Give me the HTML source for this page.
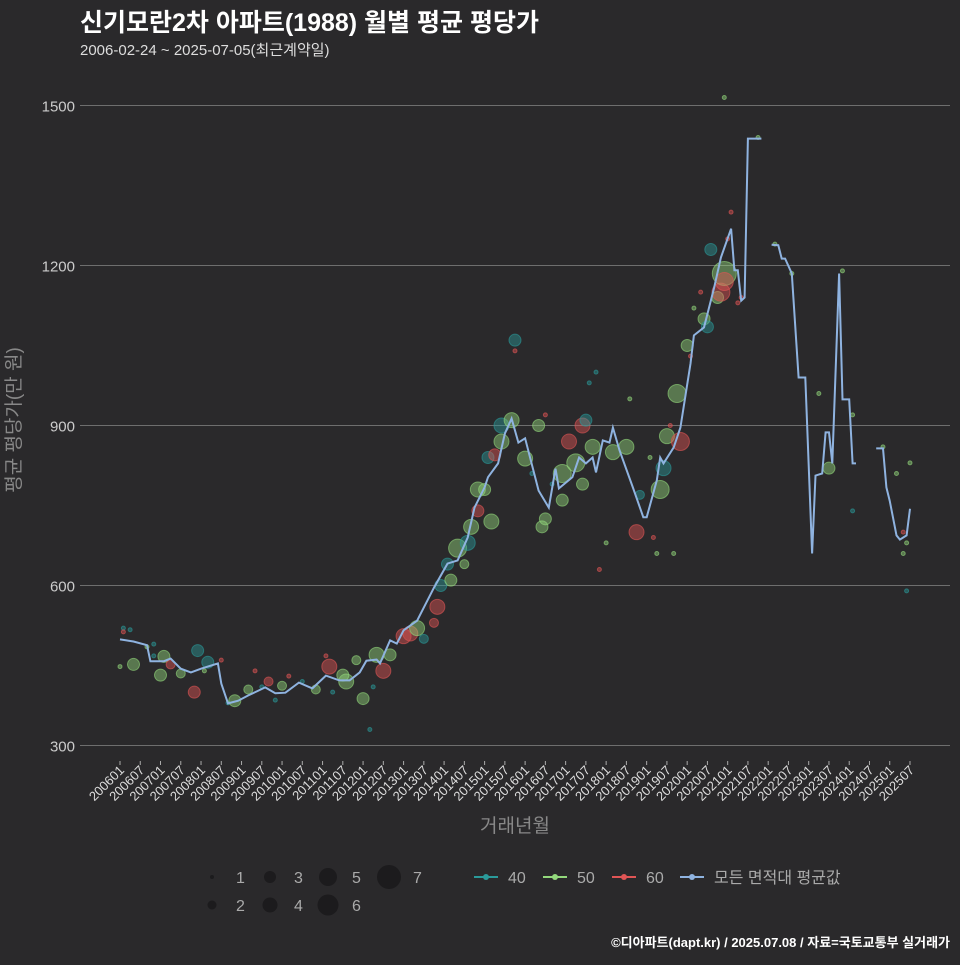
<!DOCTYPE html>
<html><head><meta charset="utf-8"><style>
body{margin:0;background:#2a292b;width:960px;height:960px;overflow:hidden;font-family:"Liberation Sans","Noto Sans CJK KR",sans-serif}
svg text{font-family:"Liberation Sans","Noto Sans CJK KR",sans-serif}
</style></head><body>
<svg id="c" width="960" height="960">
<rect width="960" height="960" fill="#2a292b"/>
<text x="80" y="31" fill="#fff" font-size="25" font-weight="bold">신기모란2차 아파트(1988) 월별 평균 평당가</text>
<text x="80" y="55" fill="#ddd" font-size="15">2006-02-24 ~ 2025-07-05(최근계약일)</text>
<text transform="translate(20,420) rotate(-90)" text-anchor="middle" fill="#888" font-size="19">평균 평당가(만 원)</text>
<text x="515" y="832" text-anchor="middle" fill="#888" font-size="19">거래년월</text>
<text x="950" y="947" text-anchor="end" fill="#fff" font-size="13" font-weight="bold">©디아파트(dapt.kr) / 2025.07.08 / 자료=국토교통부 실거래가</text>
<g id="grid"></g><g id="pts"></g><g id="line"></g><g id="xt"></g><g id="leg"></g>
</svg>
<script>
const yTicks=[300,600,900,1200,1500];
const xTickLabels=["200601","200607","200701","200707","200801","200807","200901","200907","201001","201007","201101","201107","201201","201207","201301","201307","201401","201407","201501","201507","201601","201607","201701","201707","201801","201807","201901","201907","202001","202007","202101","202107","202201","202207","202301","202307","202401","202407","202501","202507"];
const lineMonths=[0,4,8,9,13,15,18,21,24,29,30,32,35,38,41,43,46,49,53,57,61,65,68,71,73,76,77,80,82,84,88,93,97,100,103,105,108,109,112,114,116,118,120,124,127,129,130,134,136,138,140,141,143,145,146,148,152,155,156,159,160,161,164,166,169,170,173,176,178,181,182,183,184,185,186,190,null,193,195,196,197,199,201,203,205,206,208,209,210,211,213,214,216,217,218,null,224,226,227,228,230,231,233,234];
const lineValues=[499,495,488,458,458,463,444,437,444,454,416,379,384,394,403,409,398,399,418,407,431,422,422,437,459,461,454,497,491,516,534,596,641,647,690,746,784,803,829,885,913,868,876,778,746,819,782,803,840,829,840,812,872,868,896,853,782,728,728,797,840,829,859,896,1016,1069,1084,1159,1215,1269,1191,1191,1134,1140,1438,1438,null,1239,1238,1213,1213,1185,990,990,660,806,810,887,887,829,1185,949,949,829,829,null,857,857,784,759,694,686,694,744];
const ptMonths=[0,1,1,3,4,8,10,10,13,12,15,18,22,23,26,25,30,32,34,38,40,42,44,46,48,50,54,58,61,62,63,66,67,70,72,74,75,76,78,80,84,86,88,90,93,94,95,97,98,100,102,103,104,106,106,108,110,109,111,113,113,116,117,117,120,122,124,125,126,126,128,131,131,133,135,137,137,138,139,140,141,142,144,146,150,151,153,154,157,158,159,160,161,162,163,164,165,166,168,169,170,172,173,174,175,177,178,179,179,180,181,183,184,179,189,194,199,207,210,214,217,217,226,230,233,234,232,232,233];
const ptValues=[448,520,513,517,452,485,490,468,467,432,452,435,400,478,456,440,460,380,384,405,440,410,420,385,412,430,420,405,468,448,400,432,420,460,388,330,410,470,440,470,505,510,520,500,530,560,600,640,610,670,640,680,710,740,780,780,720,840,845,900,870,910,1060,1040,838,810,900,710,725,920,790,760,810,870,830,790,900,910,980,860,1000,630,680,850,860,950,700,770,840,690,660,780,820,880,900,660,960,870,1050,1030,1120,1150,1100,1085,1230,1140,1150,1185,1170,1250,1300,1130,1140,1515,1440,1240,1185,960,820,1190,920,740,860,810,680,830,700,660,590];
const ptAreas=[50,40,60,40,50,50,40,40,50,50,60,50,60,40,40,50,60,40,50,50,60,40,60,40,50,60,40,50,60,60,40,50,50,50,50,40,40,50,60,50,60,60,50,40,60,60,40,40,50,50,50,40,50,60,50,50,50,40,60,40,50,50,40,60,50,40,50,50,50,60,40,50,50,60,50,50,60,40,40,50,40,60,50,50,50,50,60,40,50,60,50,50,40,50,60,50,50,60,50,60,50,60,50,40,40,50,60,50,60,60,60,60,60,50,50,50,50,50,50,50,50,40,50,50,50,50,60,50,40];
const ptSizes=[1,1,1,1,3,1,1,1,3,3,2,2,3,3,3,1,1,1,3,2,1,1,2,1,2,1,1,2,1,4,1,3,4,2,3,1,1,4,4,3,4,4,4,2,2,4,3,3,3,5,2,4,4,3,4,3,4,3,3,4,4,4,3,1,4,1,3,3,3,1,1,3,5,4,5,3,4,3,1,4,1,1,1,4,4,1,4,2,1,1,1,5,4,4,1,1,5,5,3,1,1,1,3,3,3,3,5,7,5,1,1,1,1,1,1,1,1,1,3,1,1,1,1,1,1,1,1,1,1];
const NS='http://www.w3.org/2000/svg';
const X0=120,PXM=3.376,Y0=745.5,PXV=160/300;
function xs(m){return X0+m*PXM}
function ys(v){return Y0-(v-300)*PXV}
const col={40:'#2a9a9a',50:'#93d87c',60:'#e05555'};
const rad=[0,2,4.5,6,7.5,9,10.5,12];
function mk(t,a,p){const e=document.createElementNS(NS,t);for(const k in a)e.setAttribute(k,a[k]);p.appendChild(e);return e}
const grid=document.getElementById('grid');
yTicks.forEach(v=>{
 const l=mk('line',{x1:80,x2:950,y1:ys(v),y2:ys(v),stroke:'#6e6e6e','stroke-width':1},grid);
 
 
 const t=mk('text',{x:75,y:ys(v)+6,'text-anchor':'end',fill:'#ccc','font-size':15},grid);
 t.textContent=v;
 
 
});
const xt=document.getElementById('xt');
xTickLabels.forEach((s,i)=>{
 const x=xs(i*6);
 const tk=mk('line',{x1:x,x2:x,y1:761,y2:765,stroke:'#aaa'},xt);
 
 
 const t=mk('text',{transform:`translate(${x+5},${771}) rotate(-45)`,'text-anchor':'end',fill:'#ddd','font-size':13},xt);
 t.textContent=s;
 
 
});
const pts=document.getElementById('pts');
ptMonths.forEach((m,i)=>{
 const c=mk('circle',{cx:xs(m),cy:ys(ptValues[i]),r:rad[ptSizes[i]],fill:col[ptAreas[i]],'fill-opacity':0.45,stroke:col[ptAreas[i]],'stroke-opacity':0.6},pts);
 
 
});
const lg=document.getElementById('line');
let d='',pen=false;
lineMonths.forEach((m,i)=>{
 if(m===null){pen=false;return}
 d+=(pen?'L':'M')+xs(m).toFixed(1)+','+ys(lineValues[i]).toFixed(1);pen=true;
});
const p=mk('path',{d:d,fill:'none',stroke:'#8fb3e0','stroke-width':2},lg);


const leg=document.getElementById('leg');
const sizeLeg=[[1,212,877],[3,270,877],[5,328,877],[7,389,877],[2,212,905],[4,270,905],[6,328,905]];
sizeLeg.forEach(([s,x,y])=>{
 const c=mk('circle',{cx:x,cy:y,r:s==1?2:rad[s],fill:'#1c1b1d'},leg);
 
 
 const t=mk('text',{x:x+24,y:y+6,fill:'#aaa','font-size':16},leg);
 t.textContent=s;
 
 
});
const colLeg=[['40','#2a9a9a',474],['50','#93d87c',543],['60','#e05555',612],['모든 면적대 평균값','#8fb3e0',680]];
colLeg.forEach(([s,c,x])=>{
 const g=mk('g',{},leg);
 
 
 mk('line',{x1:x,x2:x+24,y1:877,y2:877,stroke:c,'stroke-width':2},g);
 mk('circle',{cx:x+12,cy:877,r:3,fill:c},g);
 const t=mk('text',{x:x+34,y:883,fill:'#aaa','font-size':16},g);
 t.textContent=s;
});
</script>
</body></html>
